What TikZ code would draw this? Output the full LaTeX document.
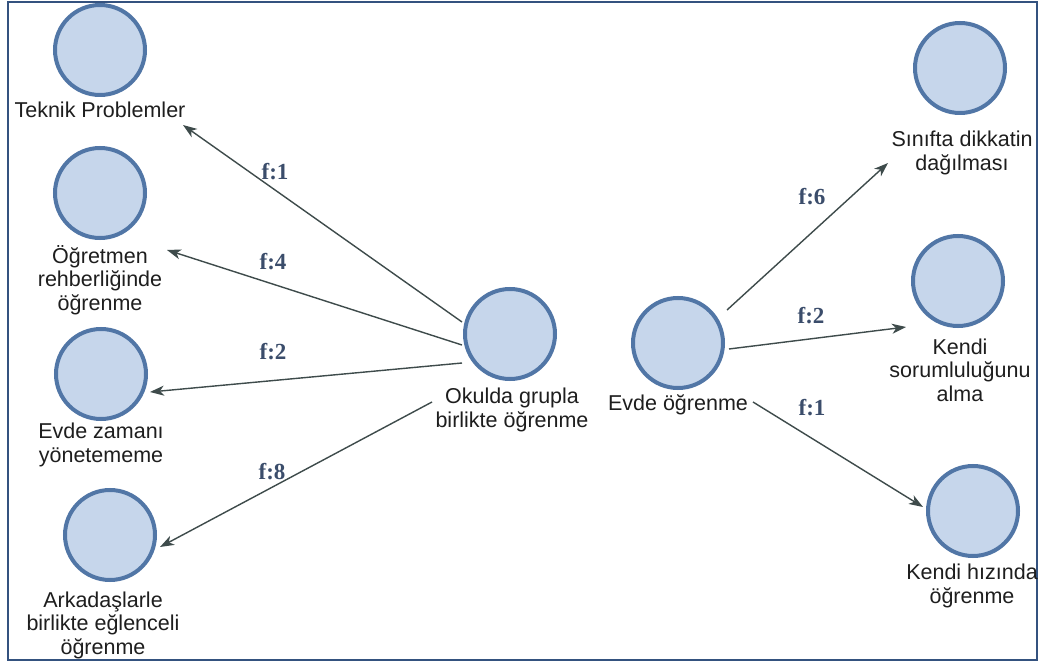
\documentclass[tikz,border=0pt]{standalone}
\usepackage{fontspec}
\setmainfont{Liberation Sans}
\newfontfamily\numfont{Liberation Serif}
\usetikzlibrary{arrows.meta,calc}

\definecolor{framec}{HTML}{34527F}
\definecolor{cfill}{HTML}{C6D6EB}
\definecolor{cline}{HTML}{5176A6}
\definecolor{arrc}{HTML}{3E4B4B}
\definecolor{freqc}{HTML}{3B4D6B}
\definecolor{txtc}{HTML}{1E1E1E}

\tikzset{
  bubble/.style={circle, minimum size=90pt, inner sep=0pt, fill=cfill, draw=cline, line width=4pt},
  caption/.style={align=center, inner sep=0pt, text=txtc, font=\fontsize{21.5}{23.5}\selectfont},
  freq/.style={inner sep=0pt, text=freqc, font=\numfont\bfseries\fontsize{23}{25}\selectfont},
  link/.style={draw=arrc, line width=1.4pt, -{Stealth[length=14pt,width=10pt,inset=4pt]}}
}

\begin{document}
\begin{tikzpicture}[x=1pt,y=-1pt]
\useasboundingbox (0,0) rectangle (1044,668);
\fill[white] (0,0) rectangle (1044,668);
\draw[framec, line width=2.4pt] (8,2) rectangle (1037,660);

% left column
\node[bubble] (tekC) at (100,50) {};
\node[caption] (tekL) at (100,110) {Teknik Problemler};
\node[bubble] (ogC) at (100,193) {};
\node[caption] (ogL) at (100,280) {Öğretmen\\rehberliğinde\\öğrenme};
\node[bubble] (ezC) at (101,374) {};
\node[caption] (ezL) at (101,445) {Evde zamanı\\yönetememe};
\node[bubble] (arC) at (110,535) {};
\node[caption] (arL) at (103,625) {Arkadaşlarle\\birlikte eğlenceli\\öğrenme};

% centre
\node[bubble] (okC) at (510,334) {};
\node[caption] (okL) at (512,410) {Okulda grupla\\birlikte öğrenme};
\node[bubble] (evC) at (678,343) {};
\node[caption] (evL) at (678,405) {Evde öğrenme};

% right column
\node[bubble] (snC) at (960,68) {};
\node[caption] (snL) at (962,153) {Sınıfta dikkatin\\dağılması};
\node[bubble] (ksC) at (958,281) {};
\node[caption] (ksL) at (960,370) {Kendi\\sorumluluğunu\\alma};
\node[bubble] (khC) at (973,511) {};
\node[caption] (khL) at (972,586) {Kendi hızında\\öğrenme};

% connectors
\draw[link] ($(okC)+(-48,-12)$) -- ($(tekL)+(83,15)$);
\draw[link] ($(okC)+(-48,11)$) -- ($(ogL)+(67,-30)$);
\draw[link] ($(okC)+(-48,29)$) -- ($(ezC)+(49,18)$);
\draw[link] ($(okL)+(-80,-8)$) -- ($(arC)+(50,12)$);
\draw[link] ($(evC)+(49,-33)$) -- ($(snL)+(-74,10)$);
\draw[link] ($(evC)+(51,6)$) -- ($(ksC)+(-52,46)$);
\draw[link] ($(evL)+(75,-3)$) -- ($(khC)+(-50,-4)$);

% frequencies
\node[freq] (f1) at (275,172) {f:1};
\node[freq] (f4) at (273,262) {f:4};
\node[freq] (f2) at (273,352) {f:2};
\node[freq] (f8) at (272,472) {f:8};
\node[freq] (f6) at (812,197) {f:6};
\node[freq] (f2r) at (811,316) {f:2};
\node[freq] (f1r) at (812,408) {f:1};
\end{tikzpicture}
\end{document}
